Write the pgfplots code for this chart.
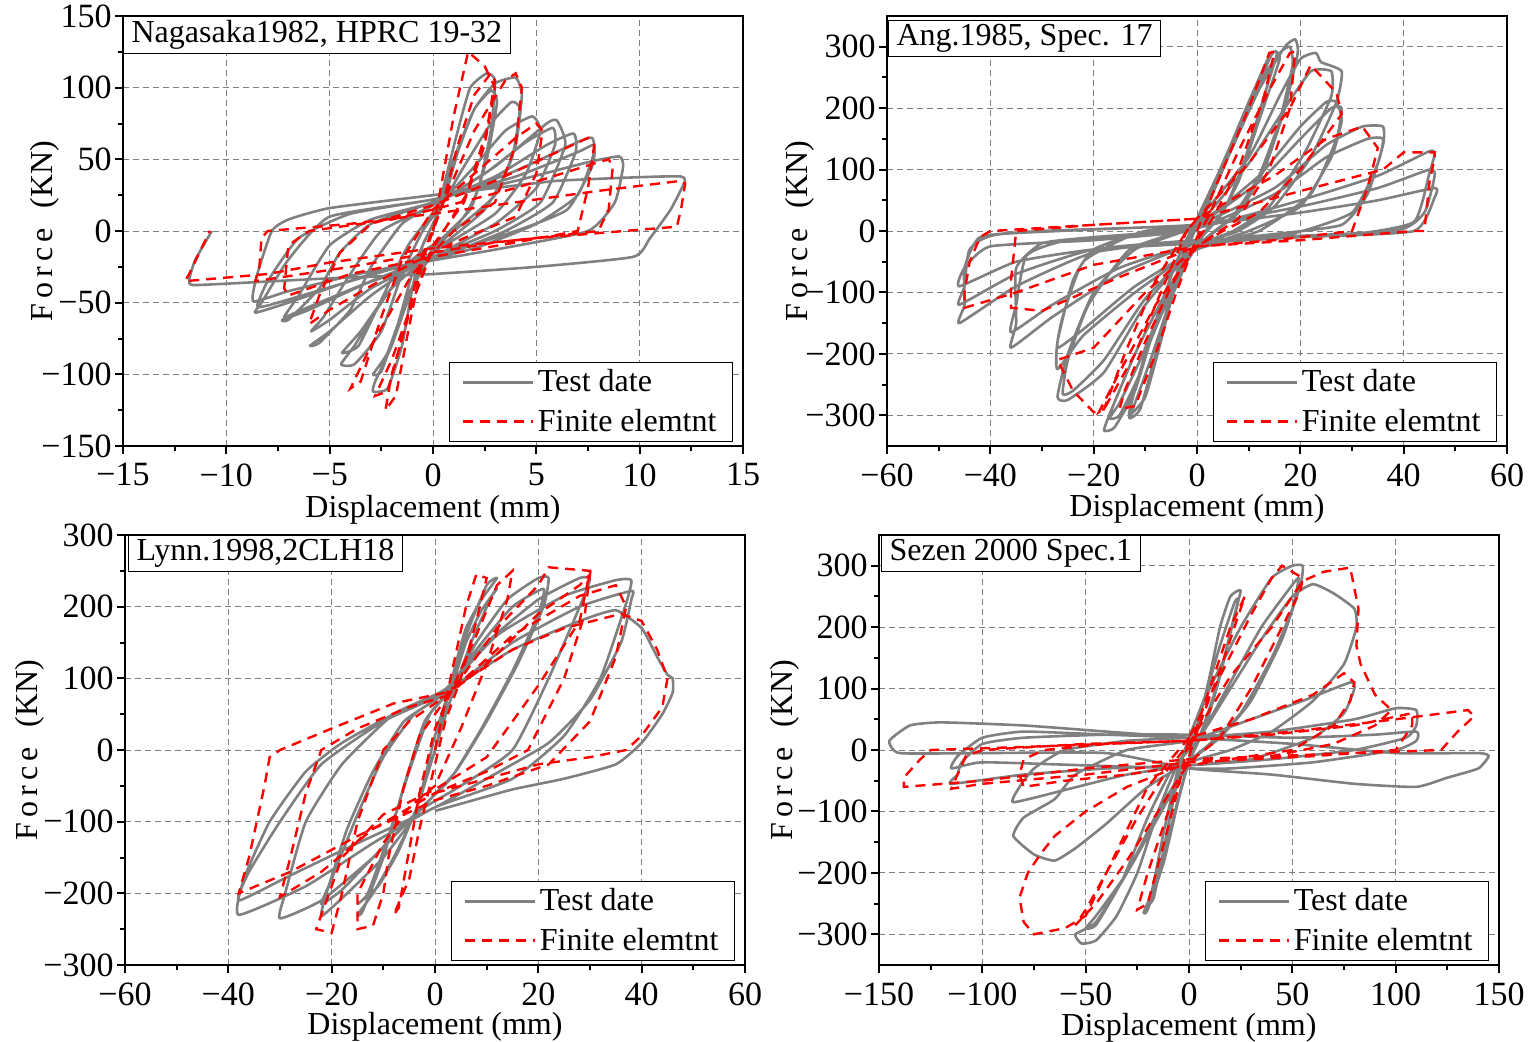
\documentclass[border=0pt]{standalone}
\usepackage{fontspec}
\setmainfont{Liberation Serif}
\usepackage{pgfplots}
\pgfplotsset{compat=1.18}

\definecolor{testgray}{RGB}{128,128,128}

\tikzset{
  titlebox/.style={draw=black, line width=0.6pt, fill=white, anchor=north west,
    inner xsep=4pt, inner ysep=2pt, font=\fontsize{16}{16}\selectfont},
}
\pgfplotsset{
  hyst/.style={
    scale only axis, width=310pt, height=215pt,
    axis line style={line width=1.3pt},
    tick align=outside, tick pos=left,
    major tick length=4pt, minor tick length=2.5pt,
    every tick/.style={black, line width=1pt},
    minor tick num=1,
    grid=major,
    major grid style={gray, line width=0.5pt, dash pattern=on 3pt off 2pt},
    tick label style={font=\fontsize{17}{17}\selectfont, inner sep=1.5pt},
    xticklabel style={yshift=-3pt},
    label style={font=\fontsize{16}{16}\selectfont},
    xlabel={Displacement (mm)},
    ylabel={F\hspace{2.5pt}o\hspace{2.5pt}r\hspace{2.5pt}c\hspace{2.5pt}e\hspace{10pt}(KN)},
    legend style={draw=black, line width=0.6pt, fill=white,
      font=\fontsize{16}{16}\selectfont,
      at={(rel axis cs:0.984,0.01)}, anchor=south east,
      inner xsep=6pt, inner ysep=1.5pt, row sep=3pt},
    legend cell align=left,
    legend image code/.code={\draw[#1, sharp plot] (0pt,0pt) -- (35pt,0pt);},
  },
  test/.style={testgray, line width=1.3pt, line join=round, smooth, tension=0.3},
  fe/.style={red, line width=1.2pt, dash pattern=on 5pt off 3.5pt},
}

\begin{document}
\begin{tikzpicture}
\useasboundingbox (0,0) rectangle (765pt,520.5pt);

% ---------- top left
\begin{axis}[hyst, at={(61.5pt,297.5pt)}, anchor=south west,
  xmin=-15, xmax=15, ymin=-150, ymax=150,
  xtick={-15,-10,...,15}, xticklabels={−15,−10,−5,0,5,10,15},
  ytick={-150,-100,...,150}, yticklabels={−150,−100,−50,0,50,100,150},
  xlabel style={at={(axis description cs:0.5,-0.149)}, anchor=center},
  ylabel style={at={(axis description cs:-0.126,0.5)}, anchor=center}]
\addplot[test] coordinates {
(0,0) (0.5,30) (1.2,70) (1.8,100) (2.6,110) (3,105) (2.8,70) (2.2,30) (1.5,10) (0,-15) (-1,-40) (-2,-80) (-2.8,-105) (-2.9,-112) (-2.2,-110) (-1.5,-80) (-1,-40) (-0.5,-10) (0.5,20)
(1.2,55) (2,85) (2.8,98) (3.1,90) (2.6,50) (1.8,15) (0,-12) (-1.2,-45) (-2.2,-85) (-2.9,-100) (-2.5,-98) (-1.7,-65) (-0.8,-20) (0.3,15)
(1,50) (2,85) (3,103) (4,107) (4.3,95) (4,60) (3,25) (1,0) (-1,-20) (-2.5,-50) (-3.8,-80) (-4.45,-93) (-3.8,-93) (-2.5,-70) (-1.5,-30) (-0.5,0) (0.5,20)
(1.5,45) (2.8,75) (3.8,90) (4.2,85) (3.8,50) (2.5,15) (0,-15) (-2,-40) (-3.5,-70) (-4.4,-85) (-3.6,-80) (-2.4,-45) (-1.2,-10) (0.3,18)
(2,45) (3.5,70) (4.8,80) (5.2,70) (4.5,40) (3,12) (0,-15) (-3,-45) (-5,-70) (-5.95,-80) (-5.5,-78) (-4,-55) (-3,-25) (-1.5,5) (0,18)
(2.5,40) (4.5,62) (5.8,72) (5.9,60) (5,30) (3,5) (0,-18) (-3,-40) (-5,-62) (-5.9,-70) (-5.3,-60) (-4,-30) (-2.5,0) (0,18)
(3,45) (5.5,75) (6,77) (6.4,60) (5.2,20) (3,0) (0,-18) (-3,-35) (-6,-55) (-7.3,-62) (-7,-62) (-5.5,-40) (-4.5,-15) (-3,5) (0,20)
(3,38) (5.5,60) (6.8,68) (6.9,55) (5.8,20) (3.5,0) (0,-20) (-3.5,-38) (-6.5,-56) (-7.2,-60) (-6.5,-45) (-5,-10) (-3,8) (0,20)
(4,42) (7,62) (7.7,65) (7.8,55) (7,25) (5,5) (2,-12) (-3,-30) (-7,-50) (-8.6,-57) (-8.3,-50) (-7,-20) (-5,10) (0,22)
(4,38) (7,55) (7.8,60) (7.7,45) (6.5,15) (4,0) (0,-18) (-4,-35) (-8,-52) (-8.5,-52) (-8,-35) (-6.5,-5) (-4,12) (0,22)
(4,35) (7.5,48) (9,52) (9.2,45) (8.8,20) (7.5,0) (3,-13) (-3,-28) (-7,-42) (-8.7,-49) (-8.5,-30) (-7.8,0) (-7,8) (-5,16) (0,25)
(3,30) (6,35) (9,37) (11,38) (12,38) (12.2,35) (11.5,15) (10.5,-5) (9.7,-18) (5,-25) (0,-30) (-5,-33) (-9,-36) (-11.6,-37.7) (-11.8,-34) (-11.5,-20) (-10.7,0)
};
\addlegendentry{Test date}
\addplot[fe] coordinates {
(0,0) (0.5,40) (1,80) (1.7,125) (2.5,115) (3,100) (2.5,60) (1.5,20) (0,-10) (-1,-50) (-2,-100) (-2.3,-125) (-1.8,-115) (-1.2,-70) (-0.5,-20) (0.5,20)
(1.2,60) (2,95) (2.8,110) (3,105) (2.6,70) (1.6,25) (0,-12) (-1,-50) (-2,-90) (-2.8,-115) (-2.2,-112) (-1.4,-70) (-0.6,-20) (0.5,20)
(2,70) (3.5,105) (4,110) (4.3,100) (4,60) (3,20) (1,0) (-1,-30) (-3,-80) (-4,-110) (-3.5,-105) (-2.5,-60) (-1.5,-20) (0,15)
(2,40) (4,65) (5,75) (5.3,70) (5,40) (4,10) (1,-8) (-2,-30) (-5,-55) (-6,-65) (-5.5,-45) (-4.5,-15) (-3,5) (0,18)
(3,35) (6,55) (7.5,65) (7.8,60) (7.5,30) (7,0) (4,-8) (0,-18) (-4,-30) (-7,-45) (-7.2,-40) (-7,-10) (-6,0) (-2,8) (0,15)
(4,30) (8,48) (8.5,50) (8.7,45) (8.5,15) (8,0) (3,-8) (0,-15) (-4,-25) (-8.6,-35) (-8.4,-25) (-8.3,-5) (-8,0) (-4,5) (0,12)
(4,20) (8,28) (12,35) (12.2,33) (12,15) (11.8,3) (5,-5) (0,-12) (-5,-22) (-8,-30) (-12,-35) (-11.8,-30) (-10.8,0)
};
\addlegendentry{Finite elemtnt}
\node[titlebox] at (rel axis cs:0,1) {Nagasaka1982, HPRC 19-32};
\end{axis}

% ---------- top right
\begin{axis}[hyst, at={(443.5pt,297.5pt)}, anchor=south west,
  xmin=-60, xmax=60, ymin=-350, ymax=350,
  xtick={-60,-40,...,60}, xticklabels={−60,−40,−20,0,20,40,60},
  ytick={-300,-200,...,300}, yticklabels={−300,−200,−100,0,100,200,300},
  xlabel style={at={(axis description cs:0.5,-0.145)}, anchor=center},
  ylabel style={at={(axis description cs:-0.140,0.5)}, anchor=center}]
\addplot[test] coordinates {
(0,0) (5,100) (10,200) (14,280) (15,292) (16,280) (12,180) (8,80) (4,20) (0,-20) (-5,-100) (-10,-200) (-13,-290) (-13,-305) (-11,-290) (-8,-200) (-5,-100) (-2,-20) (0,20)
(5,110) (10,210) (14,285) (15.5,290) (13,220) (9,110) (5,30) (0,-15) (-5,-110) (-9,-210) (-12,-280) (-13,-300) (-10,-270) (-7,-180) (-4,-80) (0,10)
(6,120) (12,230) (17,300) (19,312) (19.5,290) (17,200) (13,100) (8,30) (0,-25) (-6,-100) (-12,-200) (-17,-300) (-18,-325) (-16,-320) (-12,-260) (-8,-150) (-4,-50) (0,15)
(6,130) (12,240) (16,290) (18,300) (18.5,270) (16,180) (12,90) (7,25) (0,-25) (-6,-110) (-11,-210) (-15,-280) (-17,-305) (-15,-300) (-11,-230) (-7,-120) (-3,-30) (0,15)
(10,120) (16,220) (20,280) (23,290) (24,275) (28,260) (27,210) (22,120) (15,40) (8,0) (0,-25) (-10,-120) (-18,-230) (-25,-275) (-27,-270) (-25,-200) (-20,-100) (-12,-30) (0,10)
(10,110) (17,200) (22,260) (26,260) (26,220) (21,130) (14,40) (7,0) (0,-25) (-10,-110) (-18,-210) (-24,-260) (-26,-265) (-25,-210) (-21,-120) (-13,-30) (0,10)
(12,90) (20,170) (25,210) (27,210) (28,180) (26,120) (20,40) (10,0) (0,-30) (-12,-100) (-22,-170) (-27,-225) (-27,-180) (-24,-80) (-20,-30) (-10,0) (0,10)
(12,80) (20,150) (26,200) (28,200) (27,150) (22,60) (12,0) (0,-30) (-12,-90) (-22,-160) (-27,-190) (-26,-140) (-22,-50) (-12,-5) (0,10)
(15,70) (25,140) (32,170) (36,170) (36,140) (33,60) (28,10) (15,-5) (0,-20) (-15,-70) (-28,-140) (-36,-190) (-35,-150) (-35,-60) (-30,-20) (-20,-10) (0,5)
(15,60) (25,120) (33,150) (36,150) (35,110) (30,30) (18,-5) (0,-20) (-15,-60) (-28,-120) (-36,-165) (-35,-120) (-33,-40) (-25,-15) (0,5)
(20,50) (35,90) (45,130) (46,125) (45,95) (42,15) (30,-5) (0,-15) (-20,-35) (-35,-90) (-46,-150) (-45,-120) (-45,-60) (-42,-10) (-30,0) (0,10)
(20,40) (35,70) (45,100) (46,90) (44,30) (38,0) (0,-15) (-20,-30) (-35,-70) (-46,-120) (-45,-90) (-44,-30) (-38,-5) (0,10)
(20,30) (35,50) (46,70) (46,55) (42,0) (20,-10) (0,-20) (-20,-30) (-35,-50) (-46,-90) (-45,-60) (-40,-25) (-20,-15) (0,0)
};
\addlegendentry{Test date}
\addplot[fe] coordinates {
(0,0) (5,100) (10,200) (14,290) (15,292) (13,220) (8,100) (3,20) (0,-15) (-5,-90) (-10,-180) (-14,-260) (-15,-290) (-12,-285) (-8,-200) (-4,-100) (0,-10) (2,20)
(8,130) (14,230) (18,290) (19,292) (18,200) (14,100) (8,20) (0,-25) (-8,-120) (-15,-230) (-19,-295) (-18,-290) (-12,-200) (-6,-80) (-2,0) (0,20)
(10,110) (18,200) (22,270) (27,225) (28,190) (20,100) (12,30) (5,0) (0,-25) (-10,-100) (-20,-190) (-27,-210) (-24,-260) (-20,-295) (-18,-290) (-14,-200) (-8,-80) (-2,0) (0,20)
(15,90) (25,150) (32,170) (35,135) (33,70) (30,0) (15,-15) (0,-25) (-15,-75) (-30,-130) (-36,-125) (-36,-80) (-35,0) (-20,10) (0,20)
(20,65) (36,100) (40,128) (46,128) (46,120) (45,80) (44,0) (42,0) (20,-15) (0,-25) (-20,-55) (-35,-100) (-45,-125) (-45,-100) (-44,-50) (-42,-10) (-40,0) (0,20)
};
\addlegendentry{Finite elemtnt}
\node[titlebox, xshift=0.5pt, yshift=-2pt] at (rel axis cs:0,1) {Ang.1985, Spec. 17};
\end{axis}

% ---------- bottom left
\begin{axis}[hyst, at={(62.5pt,38pt)}, anchor=south west,
  xmin=-60, xmax=60, ymin=-300, ymax=300,
  xtick={-60,-40,...,60}, xticklabels={−60,−40,−20,0,20,40,60},
  ytick={-300,-200,...,300}, yticklabels={−300,−200,−100,0,100,200,300},
  xlabel style={at={(axis description cs:0.5,-0.144)}, anchor=center},
  ylabel style={at={(axis description cs:-0.153,0.5)}, anchor=center}]
\addplot[test] coordinates {
(0,0) (2,60) (4,120) (6,170) (9,210) (12,240) (10,230) (6,160) (3,90) (0,20) (-2,-40) (-4,-90) (-8,-150) (-12,-200) (-15,-230) (-14,-225) (-10,-150) (-6,-50) (-2,40) (3,85)
(6,150) (9,195) (12,225) (11,215) (7,150) (3,70) (0,0) (-3,-70) (-7,-140) (-11,-190) (-15,-215) (-13,-200) (-9,-120) (-5,-30) (-1,50) (3,85)
(8,150) (14,210) (20,240) (22,240) (21,200) (16,120) (10,40) (4,-30) (-3,-85) (-10,-150) (-17,-200) (-22,-232) (-21,-200) (-17,-110) (-12,-30) (-6,40) (2,80)
(8,140) (15,200) (21,225) (20,190) (15,110) (9,30) (3,-40) (-4,-90) (-12,-150) (-18,-195) (-22,-215) (-20,-180) (-15,-90) (-10,-10) (-4,50) (2,80)
(10,150) (20,210) (28,240) (30,238) (28,200) (22,100) (15,0) (5,-50) (-3,-85) (-12,-150) (-22,-210) (-30,-235) (-29,-200) (-25,-100) (-18,-20) (-8,50) (2,85)
(12,160) (25,215) (35,237) (38,237) (37,205) (32,100) (25,20) (15,-40) (0,-80) (-12,-130) (-25,-190) (-38,-230) (-37,-180) (-32,-100) (-25,-30) (-18,10) (-8,50) (2,80)
(15,150) (28,200) (38,222) (38,210) (36,150) (30,70) (22,10) (10,-40) (0,-80) (-15,-130) (-28,-175) (-38,-210) (-36,-170) (-30,-100) (-22,-20) (-10,40) (2,80)
(15,140) (28,180) (35,195) (40,170) (43,130) (45,105) (46,100) (46,80) (44,50) (40,10) (35,-20) (25,-40) (15,-55) (5,-75) (0,-85)
};
\addlegendentry{Test date}
\addplot[fe] coordinates {
(0,0) (3,100) (6,200) (8,245) (10,240) (8,180) (5,100) (2,40) (-1,-50) (-3,-110) (-5,-180) (-8,-230) (-7,-220) (-5,-140) (-3,-60) (0,30) (3,80)
(8,160) (12,230) (15,250) (14,210) (10,120) (5,30) (0,-50) (-5,-80) (-10,-130) (-15,-200) (-15,-250) (-12,-245) (-10,-200) (-9,-150) (-6,-50) (-3,20) (3,80)
(12,170) (20,230) (22,255) (30,250) (28,180) (20,90) (10,-10) (0,-55) (-10,-90) (-18,-150) (-22,-230) (-23,-250) (-20,-255) (-18,-200) (-15,-100) (-10,0) (-5,40) (2,75)
(10,120) (20,190) (28,230) (30,245) (29,190) (25,100) (18,0) (10,-30) (0,-60) (-12,-110) (-22,-170) (-30,-205) (-28,-150) (-25,-60) (-22,0) (-15,30) (-5,60) (2,75)
(15,160) (28,215) (35,230) (37,200) (35,130) (30,40) (22,-20) (10,-50) (0,-70) (-15,-120) (-28,-170) (-38,-200) (-36,-150) (-33,-50) (-32,-10) (-30,0) (-20,30) (-8,65) (2,80)
(15,140) (25,170) (36,190) (40,180) (43,140) (45,100) (44,60) (40,20) (37,0) (30,-10) (20,-20) (10,-40) (0,-60)
};
\addlegendentry{Finite elemtnt}
\node[titlebox, xshift=1.5pt] at (rel axis cs:0,1) {Lynn.1998,2CLH18};
\end{axis}

% ---------- bottom right
\begin{axis}[hyst, at={(439.5pt,38pt)}, anchor=south west,
  xmin=-150, xmax=150, ymin=-350, ymax=350,
  xtick={-150,-100,...,150}, xticklabels={−150,−100,−50,0,50,100,150},
  ytick={-300,-200,...,300}, yticklabels={−300,−200,−100,0,100,200,300},
  xlabel style={at={(axis description cs:0.5,-0.147)}, anchor=center},
  ylabel style={at={(axis description cs:-0.152,0.5)}, anchor=center}]
\addplot[test] coordinates {
(0,0) (5,50) (10,120) (15,200) (20,250) (25,260) (22,220) (15,120) (8,40) (0,-20) (-5,-80) (-12,-180) (-20,-260) (-22,-265) (-18,-230) (-12,-130) (-6,-40) (0,20)
(8,90) (15,170) (22,240) (24,245) (20,190) (13,100) (6,30) (0,-15) (-6,-90) (-13,-180) (-20,-250) (-17,-240) (-11,-140) (-5,-40) (0,20)
(10,100) (25,200) (40,280) (50,300) (55,300) (54,270) (45,180) (30,80) (15,20) (0,-20) (-15,-100) (-30,-200) (-45,-280) (-55,-300) (-52,-315) (-45,-310) (-35,-270) (-25,-200) (-15,-100) (-5,-20) (5,20)
(20,110) (35,200) (48,260) (53,280) (50,230) (40,150) (25,60) (10,10) (0,-20) (-15,-110) (-30,-200) (-45,-270) (-50,-290) (-45,-285) (-32,-210) (-20,-110) (-8,-30) (5,20)
(20,100) (35,180) (50,250) (60,270) (70,255) (80,230) (81,200) (75,140) (60,80) (40,30) (20,0) (0,-20) (-20,-60) (-40,-120) (-55,-160) (-65,-180) (-75,-170) (-85,-140) (-80,-110) (-65,-80) (-55,-40) (-30,0) (0,15)
(30,50) (55,80) (78,110) (80,100) (75,60) (60,20) (30,-15) (0,-25) (-30,-40) (-60,-65) (-85,-85) (-82,-60) (-75,-30) (-60,0) (-30,15) (0,20)
(40,30) (80,50) (100,68) (110,65) (110,40) (105,20) (80,0) (40,-15) (0,-25) (-40,-30) (-80,-40) (-115,-55) (-112,-40) (-110,-20) (-100,10) (-80,20) (-40,25) (0,25)
(50,20) (90,25) (110,30) (110,15) (100,0) (60,-20) (20,-30) (0,-30) (-50,-25) (-100,-20) (-115,-30) (-112,-10) (-100,20) (-80,30) (-40,25) (0,20)
(50,10) (100,-5) (140,-5) (145,-10) (140,-30) (125,-45) (110,-60) (80,-55) (40,-40) (0,-30) (-40,-5) (-100,-5) (-140,-5) (-145,15) (-135,40) (-120,45) (-80,40) (-40,30) (0,20)
};
\addlegendentry{Test date}
\addplot[fe] coordinates {
(0,0) (10,100) (20,200) (27,250) (25,230) (15,130) (5,40) (0,-10) (-10,-100) (-20,-200) (-25,-260) (-20,-250) (-12,-150) (-5,-60) (0,20)
(15,120) (30,220) (40,280) (45,300) (55,280) (54,260) (45,200) (30,100) (15,20) (0,-20) (-15,-100) (-30,-180) (-45,-250) (-55,-285) (-50,-260) (-40,-200) (-25,-110) (-10,-30) (0,10)
(20,120) (40,200) (55,275) (65,290) (78,297) (82,230) (81,170) (83,140) (90,90) (98,65) (90,40) (70,10) (40,-10) (0,-20) (-30,-60) (-50,-100) (-65,-140) (-72,-170) (-78,-200) (-82,-240) (-80,-280) (-75,-300) (-60,-290) (-50,-270) (-40,-200) (-30,-130) (-20,-60) (0,20)
(30,50) (60,90) (75,125) (80,110) (78,80) (70,40) (50,0) (20,-15) (0,-25) (-30,-40) (-60,-50) (-80,-60) (-82,-40) (-80,-15) (-70,0) (-40,10) (0,15)
(40,25) (80,40) (108,60) (108,40) (100,0) (60,-10) (0,-20) (-50,-40) (-100,-55) (-115,-63) (-112,-40) (-108,-10) (-100,0) (-50,10) (0,15)
(50,30) (100,50) (135,65) (138,55) (130,30) (122,0) (80,-5) (40,-10) (0,-15) (-50,-30) (-100,-50) (-138,-60) (-138,-45) (-130,-15) (-125,0) (-80,5) (-40,10) (0,15)
};
\addlegendentry{Finite elemtnt}
\node[titlebox, xshift=1pt] at (rel axis cs:0,1) {Sezen 2000 Spec.1};
\end{axis}
\end{tikzpicture}
\end{document}
